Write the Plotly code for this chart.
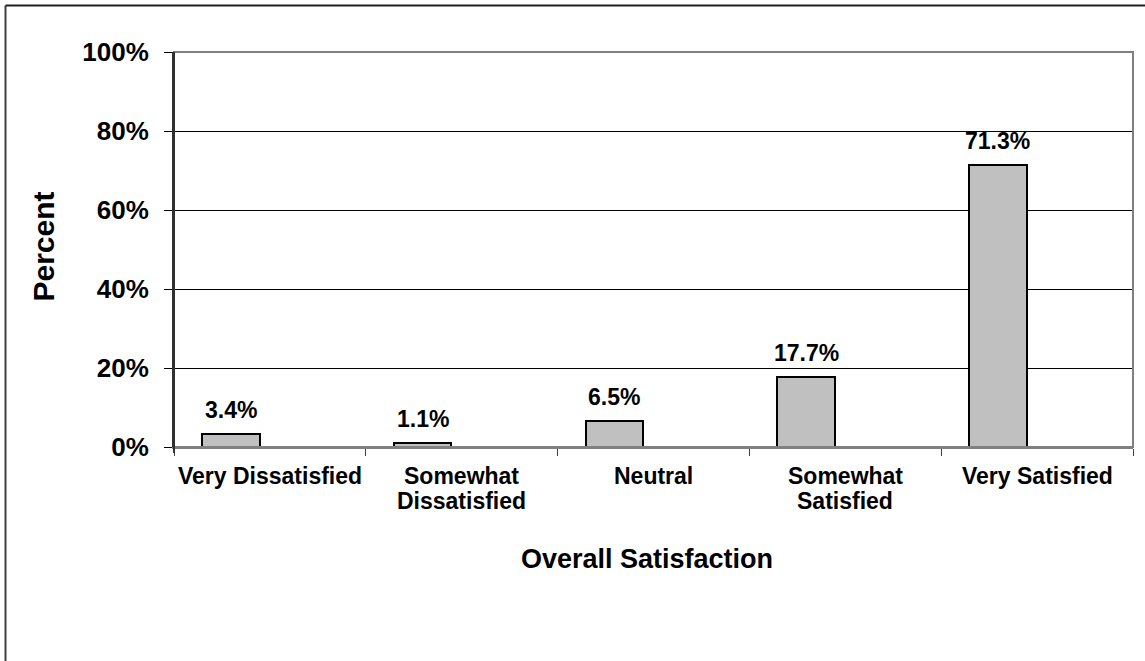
import plotly.graph_objects as go

# Survey results: overall satisfaction distribution
categories = ["Very Dissatisfied", "Somewhat\nDissatisfied", "Neutral",
              "Somewhat\nSatisfied", "Very Satisfied"]
percent = [3.4, 1.1, 6.5, 17.7, 71.3]
y_ticks = [0, 20, 40, 60, 80, 100]

W, H = 1145, 661
L, R, T, B = 174, 12, 52, 214
pw, ph = W - L - R, H - T - B

FONT = "Liberation Sans, Arial, sans-serif"

BAR_OFFSET = -0.354
BAR_WIDTH = 0.30


def px_x(px):
    return (px - L) / pw


def px_y(py):
    return (T + ph - py) / ph


fig = go.Figure()
fig.add_trace(go.Bar(
    x=list(range(len(categories))),
    y=percent,
    offset=BAR_OFFSET,
    width=BAR_WIDTH,
    marker=dict(color="#C0C0C0", line=dict(color="#000000", width=2)),
    hoverinfo="skip",
))
# invisible trace so the overlay axis (inner tick marks) is drawn
fig.add_trace(go.Scatter(
    x=[0], y=[0], yaxis="y2", mode="markers",
    marker=dict(opacity=0), hoverinfo="skip", showlegend=False,
))

# value labels above each bar
for i, v in enumerate(percent):
    fig.add_annotation(
        x=i + BAR_OFFSET + BAR_WIDTH / 2, y=v, xref="x", yref="y",
        text=f"<b>{v:.1f}%</b>", showarrow=False,
        xanchor="center", yanchor="middle", yshift=24,
        font=dict(family=FONT, size=23, color="#000000"),
    )

# category labels under the axis, one annotation per text line
LINE1_Y, LINE_STEP = 475.5, 25.5
for i, cat in enumerate(categories):
    for k, line in enumerate(cat.split("\n")):
        fig.add_annotation(
            x=i, y=px_y(LINE1_Y + k * LINE_STEP), xref="x", yref="paper",
            text=f"<b>{line}</b>", showarrow=False,
            xanchor="center", yanchor="middle",
            font=dict(family=FONT, size=23, color="#000000"),
        )

# axis titles
fig.add_annotation(
    x=px_x(43), y=px_y(246.5), xref="paper", yref="paper",
    text="<b>Percent</b>", showarrow=False, textangle=-90,
    xanchor="center", yanchor="middle",
    font=dict(family=FONT, size=30, color="#000000"),
)
fig.add_annotation(
    x=px_x(647), y=px_y(559), xref="paper", yref="paper",
    text="<b>Overall Satisfaction</b>", showarrow=False,
    xanchor="center", yanchor="middle",
    font=dict(family=FONT, size=27, color="#000000"),
)

# plot-area frame
fig.add_shape(type="rect", xref="paper", yref="paper", x0=0, x1=1, y0=0, y1=1,
              line=dict(color="#808080", width=2), layer="above")
# value axis line, darker than the frame
fig.add_shape(type="line", xref="paper", yref="paper", x0=0, x1=0,
              y0=px_y(453), y1=1, line=dict(color="#303030", width=2),
              layer="above")
# outer chart frame
fig.add_shape(type="line", xref="paper", yref="paper",
              x0=px_x(5.5), x1=px_x(5.5), y0=px_y(5.5), y1=px_y(700),
              line=dict(color="#404040", width=2))
fig.add_shape(type="line", xref="paper", yref="paper",
              x0=px_x(5.5), x1=px_x(1200), y0=px_y(5.5), y1=px_y(5.5),
              line=dict(color="#202020", width=2))

fig.update_layout(
    width=W, height=H,
    margin=dict(l=L, r=R, t=T, b=B, autoexpand=False),
    paper_bgcolor="#FFFFFF", plot_bgcolor="#FFFFFF",
    showlegend=False,
    font=dict(family=FONT, color="#000000"),
    xaxis=dict(
        type="category",
        tickmode="array",
        tickvals=list(range(len(categories))),
        ticktext=[c.replace("\n", " ") for c in categories],
        showticklabels=False,
        range=[-0.5, len(categories) - 0.5],
        tickson="boundaries",
        ticks="outside", ticklen=7, tickcolor="#404040", tickwidth=1,
        showline=True, linecolor="#808080", linewidth=2,
        showgrid=False, zeroline=False,
        fixedrange=True,
    ),
    yaxis=dict(
        range=[0, 100],
        tickmode="array",
        tickvals=y_ticks,
        ticktext=[f"<b>{t}%</b>" for t in y_ticks],
        ticks="outside", ticklen=8, tickcolor="#000000", tickwidth=1,
        ticklabelstandoff=10,
        showline=True, linecolor="#303030", linewidth=2,
        showgrid=True, gridcolor="#000000", gridwidth=1,
        zeroline=False,
        tickfont=dict(family=FONT, size=26, color="#000000"),
        fixedrange=True,
    ),
    yaxis2=dict(
        overlaying="y", side="left",
        range=[0, 100],
        tickmode="array", tickvals=y_ticks,
        ticks="inside", ticklen=6, tickcolor="#000000", tickwidth=1,
        showticklabels=False, showgrid=False, zeroline=False,
        showline=False, fixedrange=True,
    ),
    bargap=0,
)

fig.write_html("out.html", config={"displayModeBar": False})
